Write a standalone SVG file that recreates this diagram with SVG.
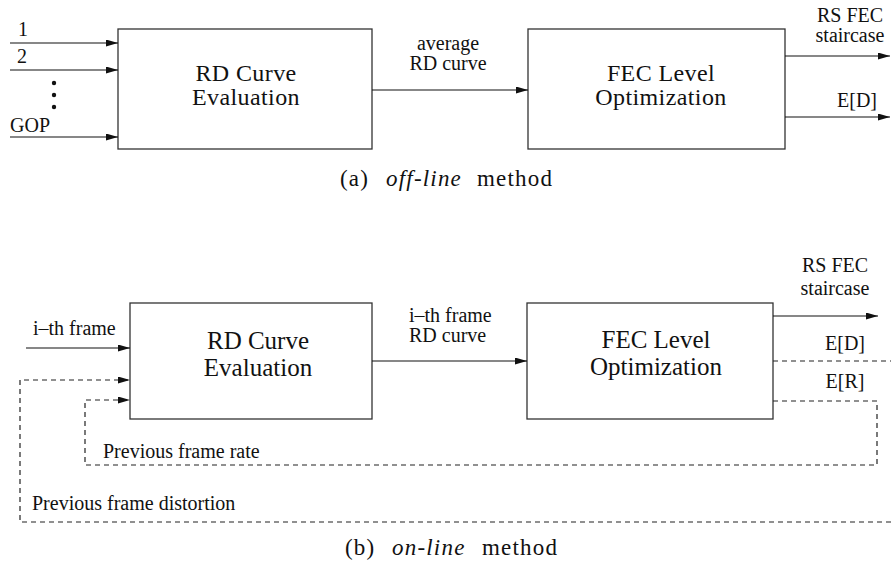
<svg xmlns="http://www.w3.org/2000/svg" width="891" height="572" viewBox="0 0 891 572">
<defs>
<marker id="ah" markerUnits="userSpaceOnUse" markerWidth="13" markerHeight="8" refX="12" refY="3.5" orient="auto">
<path d="M0,0 L12,3.5 L0,7 Z" fill="#111"/>
</marker>
<style>
.box{fill:#fff;stroke:#333;stroke-width:1.3}
.ln{fill:none;stroke:#111;stroke-width:1.2}
.ds{fill:none;stroke:#222;stroke-width:1.2;stroke-dasharray:5,4}
text{font-family:'Liberation Serif','Times New Roman',Times,serif;fill:#111}
.big{font-size:25px;text-anchor:middle}
.bigt{font-size:24px;text-anchor:middle;letter-spacing:0.4px}
.sm{font-size:20px}
.mid{text-anchor:middle}
.cap{font-size:23px;letter-spacing:1.2px}
.it{font-style:italic}
</style>
</defs>
<rect width="891" height="572" fill="#fff"/>

<!-- (a) off-line -->
<g id="a-rd">
<rect class="box" x="118" y="29" width="254" height="120"/>
<text class="bigt" x="246" y="81">RD Curve</text>
<text class="bigt" x="246" y="105">Evaluation</text>
</g>
<g id="a-fec">
<rect class="box" x="528" y="29" width="257" height="120"/>
<text class="bigt" x="661" y="81">FEC Level</text>
<text class="bigt" x="661" y="105">Optimization</text>
</g>
<g id="a-inputs">
<text class="sm" x="18" y="36">1</text>
<text class="sm" x="17" y="63">2</text>
<circle cx="54" cy="83" r="2.2" fill="#111"/>
<circle cx="54" cy="95" r="2.2" fill="#111"/>
<circle cx="54" cy="107" r="2.2" fill="#111"/>
<text class="sm" x="10" y="132">GOP</text>
</g>
<g id="a-labels">
<text class="sm mid" x="448" y="50">average</text>
<text class="sm mid" x="448" y="70">RD curve</text>
<text class="sm mid" x="850" y="22">RS FEC</text>
<text class="sm mid" x="850" y="42">staircase</text>
<text class="sm mid" x="857" y="107">E[D]</text>
</g>
<g id="a-connectors">
<line class="ln" x1="10" y1="43" x2="118" y2="43" marker-end="url(#ah)"/>
<line class="ln" x1="10" y1="70" x2="118" y2="70" marker-end="url(#ah)"/>
<line class="ln" x1="10" y1="137" x2="118" y2="137" marker-end="url(#ah)"/>
<line class="ln" x1="372" y1="90" x2="528" y2="90" marker-end="url(#ah)"/>
<line class="ln" x1="785" y1="56" x2="890" y2="56" marker-end="url(#ah)"/>
<line class="ln" x1="785" y1="117" x2="890" y2="117" marker-end="url(#ah)"/>
</g>
<g id="a-caption">
<text class="cap" x="340" y="186">(a)</text>
<text class="cap it" x="386" y="186">off-line</text>
<text class="cap" x="477" y="186">method</text>
</g>

<!-- (b) on-line -->
<g id="b-rd">
<rect class="box" x="130" y="303" width="242" height="116"/>
<text class="big" x="258" y="349">RD Curve</text>
<text class="big" x="258" y="376">Evaluation</text>
</g>
<g id="b-fec">
<rect class="box" x="527" y="303" width="246" height="116"/>
<text class="big" x="656" y="348">FEC Level</text>
<text class="big" x="656" y="375">Optimization</text>
</g>
<g id="b-labels">
<text class="sm" x="33" y="335">i–th frame</text>
<text class="sm" x="409" y="322">i–th frame</text>
<text class="sm" x="409" y="342">RD curve</text>
<text class="sm mid" x="835" y="272">RS FEC</text>
<text class="sm mid" x="835" y="295">staircase</text>
<text class="sm mid" x="845" y="350">E[D]</text>
<text class="sm mid" x="845" y="388">E[R]</text>
<text class="sm" x="103" y="458">Previous frame rate</text>
<text class="sm" x="32" y="510">Previous frame distortion</text>
</g>
<g id="b-connectors">
<line class="ln" x1="26" y1="348" x2="130" y2="348" marker-end="url(#ah)"/>
<line class="ln" x1="372" y1="361" x2="527" y2="361" marker-end="url(#ah)"/>
<line class="ln" x1="773" y1="316" x2="878" y2="316" marker-end="url(#ah)"/>
<path class="ds" d="M773,361 H891"/>
<path class="ds" d="M891,522 H20 V380 H130" marker-end="url(#ah)"/>
<path class="ds" d="M773,401 H877 V465 H85 V400 H130" marker-end="url(#ah)"/>
</g>
<g id="b-caption">
<text class="cap" x="345" y="555">(b)</text>
<text class="cap it" x="392" y="555">on-line</text>
<text class="cap" x="482" y="555">method</text>
</g>
</svg>
